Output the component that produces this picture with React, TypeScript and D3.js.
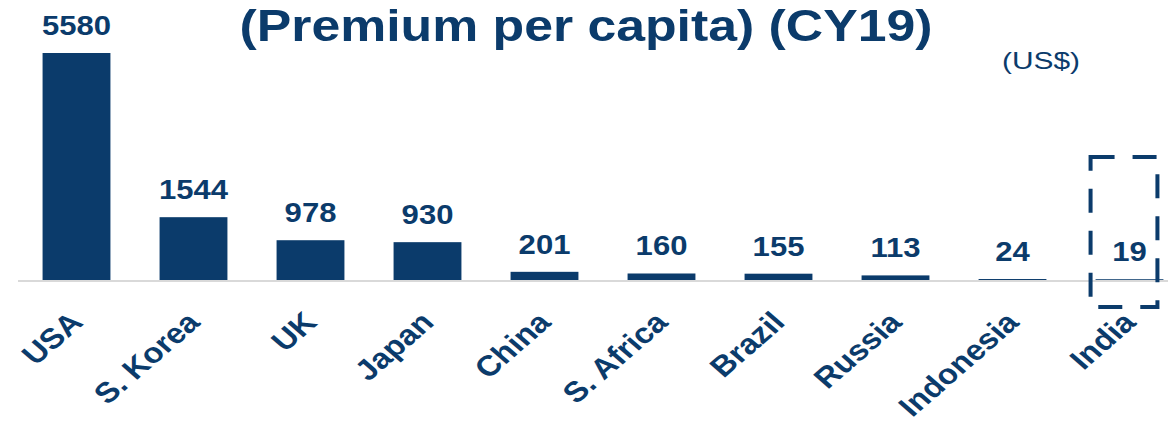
import { useRef, useEffect } from 'react';
import * as d3 from 'd3';

const countries = ['USA', 'S. Korea', 'UK', 'Japan', 'China', 'S. Africa', 'Brazil', 'Russia', 'Indonesia', 'India'];
const premiums = [5580, 1544, 978, 930, 201, 160, 155, 113, 24, 19];
const highlighted = ['India'];

const title = '(Premium per capita) (CY19)';
const unitLabel = '(US$)';

const width = 1168;
const height = 424;
const navy = '#0b3b6b';
const stretch = 1.15;

const margin = { left: 18, right: -20, top: 53, baseline: 280 };

const App = () => {
  const ref = useRef<SVGSVGElement>(null);

  useEffect(() => {
    const svg = d3.select(ref.current);
    svg.selectAll('*').remove();

    const x = d3
      .scaleBand<string>()
      .domain(countries)
      .range([margin.left, width - margin.right])
      .paddingInner(0.42)
      .paddingOuter(0.21);

    const y = d3
      .scaleLinear()
      .domain([0, d3.max(premiums) as number])
      .range([margin.baseline, margin.top]);

    const data = countries.map((c, i) => ({ c, v: premiums[i] }));

    // bars
    svg
      .append('g')
      .selectAll('rect')
      .data(data)
      .enter()
      .append('rect')
      .attr('x', (d) => x(d.c) as number)
      .attr('y', (d) => y(d.v))
      .attr('width', x.bandwidth())
      .attr('height', (d) => y(0) - y(d.v))
      .attr('fill', navy);

    // baseline
    svg
      .append('line')
      .attr('x1', margin.left)
      .attr('x2', width)
      .attr('y1', margin.baseline + 1)
      .attr('y2', margin.baseline + 1)
      .attr('stroke', '#d9d9d9')
      .attr('stroke-width', 2);

    // value labels
    svg
      .append('g')
      .selectAll('text')
      .data(data)
      .enter()
      .append('text')
      .attr(
        'transform',
        (d) => `translate(${(x(d.c) as number) + x.bandwidth() / 2}, ${Math.min(y(d.v), y(0) - 1) - 18}) scale(${stretch},1)`
      )
      .attr('text-anchor', 'middle')
      .attr('font-family', 'Liberation Sans, Arial, sans-serif')
      .attr('font-weight', 'bold')
      .attr('font-size', 27)
      .attr('fill', navy)
      .text((d) => d.v);

    // category labels, rotated
    svg
      .append('g')
      .selectAll('text')
      .data(data)
      .enter()
      .append('text')
      .attr(
        'transform',
        (d) => `translate(${(x(d.c) as number) + x.bandwidth() / 2 + 8}, ${margin.baseline + 44}) scale(${stretch},1) rotate(-45)`
      )
      .attr('text-anchor', 'end')
      .attr('font-family', 'Liberation Sans, Arial, sans-serif')
      .attr('font-weight', 'bold')
      .attr('font-size', 28.5)
      .attr('fill', navy)
      .text((d) => d.c);

    // dashed highlight box
    svg
      .append('g')
      .selectAll('rect')
      .data(highlighted)
      .enter()
      .append('rect')
      .attr('x', (d) => (x(d) as number) - 5)
      .attr('y', 157)
      .attr('width', x.bandwidth() - 1)
      .attr('height', 150)
      .attr('fill', 'none')
      .attr('stroke', navy)
      .attr('stroke-width', 4)
      .attr('stroke-dasharray', '24 18');

    // title
    svg
      .append('text')
      .attr('transform', `translate(586, 41) scale(${stretch},1)`)
      .attr('text-anchor', 'middle')
      .attr('font-family', 'Liberation Sans, Arial, sans-serif')
      .attr('font-weight', 'bold')
      .attr('font-size', 45)
      .attr('fill', navy)
      .text(title);

    svg
      .append('text')
      .attr('transform', `translate(1041, 69) scale(1.3,1)`)
      .attr('text-anchor', 'middle')
      .attr('font-family', 'Liberation Sans, Arial, sans-serif')
      .attr('font-size', 23)
      .attr('fill', navy)
      .text(unitLabel);
  }, []);

  return (
    <svg
      ref={ref}
      width={width}
      height={height}
      style={{ position: 'absolute', left: 0, top: 0, background: 'white' }}
    ></svg>
  );
};

export default App;
